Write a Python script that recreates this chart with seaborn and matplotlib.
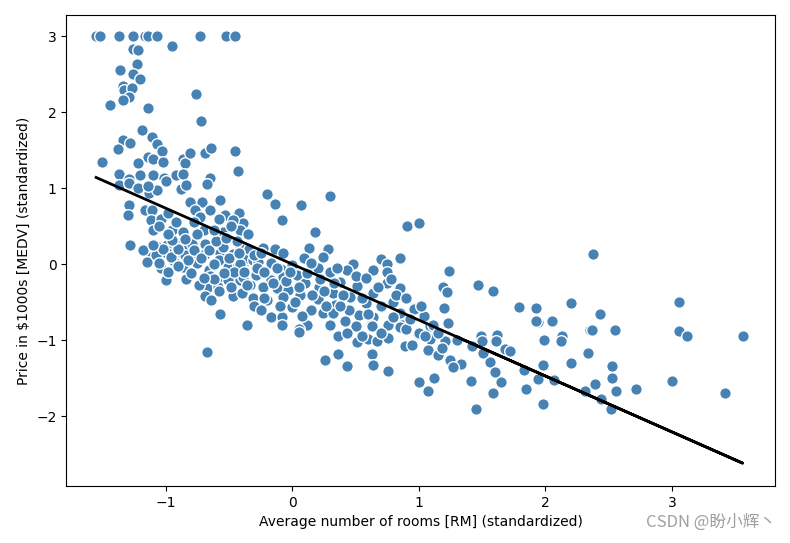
import numpy as np
import matplotlib
matplotlib.use("Agg")
import matplotlib.pyplot as plt
import seaborn as sns

# standardized RM (x) and MEDV (y)
rm_std = [
    -1.55, -1.52, -1.37, -1.26, -1.16, -1.14, -1.07, -0.73, -0.52, -0.45,
    -0.95, -1.26, -1.22, -1.23, -1.36, -1.26, -1.20, -1.34, -1.33, -1.27,
    -1.29, -1.34, -1.44, -1.14, -0.76, -0.72, -1.19, -1.34, -1.28, -1.11,
    -1.07, -1.03, -1.38, -1.14, -1.10, -1.02, -1.22, -0.86, -0.85, -0.81,
    -0.69, -0.64, -0.45, -0.43, -1.50, -1.37, -1.20, -1.10, -1.01, -0.92,
    -0.86, -0.65, -1.29, -1.00, -1.37, -1.29, -1.22, -1.13, -1.07, -1.14,
    -0.88, -0.84, -0.67, -1.29, -1.30, -1.16, -1.11, -1.12, -1.04, -0.98,
    -1.10, -0.95, -0.86, -0.81, -0.71, -0.57, -0.77, -0.73, -0.65, -0.78,
    -0.70, -0.53, -0.42, -0.39, -0.47, -0.55, -0.41, -1.28, -1.06, -0.99,
    -0.92, -0.86, -0.79, -0.69, -1.12, -0.99, -0.91, -0.85, -0.76, -0.69,
    -0.57, -0.47, -0.39, -1.15, -1.04, -0.94, -0.86, -0.75, -0.66, -0.58,
    -0.51, -0.43, -0.36, -1.00, -0.84, -0.71, -0.65, -0.58, -0.51, -0.41,
    -0.67, -0.59, -0.69, -0.64, -0.47, -0.40, -0.57, -0.36, -0.67,
    -0.20, -0.14, 0.07, 0.30, -0.08, 0.18, 0.91, 0.99, 0.13, 0.28,
    -0.23, -0.14, -0.07, 0.09, 0.24, 0.48, 0.70, 0.85, 0.75, -0.36,
    -0.31, -0.27, -0.17, -0.09, 0.00, 0.20, 0.30, 0.43, 0.64, 0.75,
    -0.39, -0.29, -0.17, -0.07, 0.04, 0.10, 0.21, 0.38, 0.51, 0.64,
    0.75, 0.85, -0.33, -0.23, -0.12, -0.03, 0.06, 0.20, 0.32, 0.46,
    0.58, 0.80, 0.96, -0.31, -0.20, -0.07, 0.00, -0.30, 0.24, 0.34,
    0.32, 0.53, 0.64, 0.85, -0.17, -0.08, -0.08, 0.12, 0.05, 0.50,
    0.62, 0.76, 0.87, -0.41, -0.41, 0.05, 0.36, 0.43, 0.51, 0.60,
    0.67, 0.76, 0.63, 0.85, 0.89, 0.95, 0.99, 0.26, 0.36, 0.43,
    0.63, 0.64, 0.76, 0.99,
    1.00, 1.09, 1.23, 1.09, 1.07, 1.15, 1.21, 1.25, 1.33, 1.27,
    1.12, 1.00, 1.07, 1.41, 1.45, 1.49, 1.50, 1.42, 1.51, 1.62,
    1.61, 1.68, 1.72, 1.56, 1.60, 1.65, 1.59, 1.83, 1.85, 1.94,
    1.98, 1.98, 1.94, 2.05, 1.99, 2.13, 2.12, 2.20, 2.07, 2.31,
    2.33, 2.35, 1.00, 1.24, 1.19, 1.22, 1.47, 1.59, 0.96, 1.04,
    1.20, 1.11, 1.79, 1.93, 1.93, 2.05, 2.20, 2.38, 2.43, 3.06,
    2.37, 2.55, 3.06, 3.12, 3.56, 2.34, 2.53, 2.53, 2.39, 2.56,
    2.72, 3.00, 3.42, 2.44, 2.52,
    # dense cluster, low-RM side
    -1.18, -1.08, -1.02, -0.96, -0.90, -0.82, -0.78, -0.72, -0.66, -0.62,
    -0.55, -0.50, -0.46, -0.44, -0.38, -0.34, -0.98, -0.90, -0.80, -0.74,
    -0.62, -0.54, -0.48, -0.36, -1.10, -1.05, -0.95, -0.85, -0.60, -0.52,
    -0.70, -0.58, -0.42, -0.30, -0.28, -0.25,
    -1.05, -0.98, -0.92, -0.75, -0.62, -0.58, -0.48, -0.35,
    # dense cluster, middle
    -0.22, -0.12, -0.05, 0.05, 0.12, 0.16, 0.22, 0.27, 0.33, 0.40,
    0.45, 0.50, 0.55, 0.60, 0.68, 0.70, 0.80, 0.82, 0.90, 0.93,
    0.42, 0.30, 0.15, 0.02, -0.10, -0.22, -0.25, 0.08, 0.55, 0.70,
    0.38, 0.25, -0.15, -0.02, 0.15, 0.35, 0.58, 0.78, 0.90, 1.02,
    1.05, 1.15, 1.18, 1.30,
]
medv_std = [
    3.00, 3.00, 3.00, 3.00, 3.00, 3.00, 3.00, 3.00, 3.00, 3.00,
    2.87, 2.83, 2.82, 2.63, 2.55, 2.50, 2.43, 2.34, 2.29, 2.32,
    2.20, 2.16, 2.09, 2.05, 2.24, 1.88, 1.76, 1.64, 1.60, 1.67,
    1.58, 1.49, 1.51, 1.41, 1.38, 1.34, 1.33, 1.39, 1.33, 1.46,
    1.46, 1.53, 1.49, 1.22, 1.34, 1.18, 1.17, 1.17, 1.13, 1.17,
    1.18, 1.14, 1.12, 1.10, 1.04, 1.07, 1.00, 0.93, 0.97, 1.03,
    0.99, 1.04, 1.05, 0.78, 0.64, 0.71, 0.71, 0.58, 0.60, 0.67,
    0.45, 0.45, 0.42, 0.82, 0.82, 0.84, 0.71, 0.62, 0.71, 0.55,
    0.45, 0.64, 0.67, 0.54, 0.58, 0.42, 0.45, 0.25, 0.22, 0.25,
    0.28, 0.22, 0.26, 0.26, 0.10, 0.14, 0.14, 0.12, 0.14, 0.13,
    0.14, 0.13, 0.14, 0.03, -0.05, 0.05, -0.04, 0.01, -0.08, 0.05,
    -0.04, -0.01, 0.05, -0.21, -0.20, -0.24, -0.15, -0.21, -0.21, -0.21,
    -0.32, -0.30, -0.42, -0.47, -0.42, -0.38, -0.66, -0.80, -1.16,
    0.92, 0.79, 0.78, 0.89, 0.58, 0.42, 0.50, 0.54, 0.21, 0.20,
    0.21, 0.20, 0.14, 0.08, 0.09, 0.00, 0.07, 0.08, 0.00, 0.08,
    0.05, 0.03, 0.01, -0.07, -0.01, -0.05, -0.10, -0.08, -0.08, -0.10,
    -0.17, -0.14, -0.21, -0.17, -0.14, -0.25, -0.30, -0.24, -0.29, -0.38,
    -0.25, -0.32, -0.28, -0.30, -0.32, -0.34, -0.41, -0.46, -0.38, -0.43,
    -0.51, -0.50, -0.58, -0.45, -0.47, -0.43, -0.57, -0.55, -0.64, -0.54,
    -0.64, -0.67, -0.70, -0.64, -0.70, -0.70, -0.80, -0.80, -0.86, -0.82,
    -0.80, -0.80, -0.80, 0.21, 0.00, -0.89, -0.95, -0.91, -1.03, -0.99,
    -1.01, -0.97, -0.82, -0.83, -1.08, -1.07, -0.92, -1.26, -1.18, -1.34,
    -1.18, -1.33, -1.41, -1.55,
    -0.91, -0.82, -0.78, -0.99, -1.13, -1.20, -1.01, -1.26, -1.32, -1.36,
    -1.50, -1.55, -1.67, -1.54, -1.91, -0.95, -1.01, -1.08, -1.17, -0.93,
    -1.01, -1.12, -1.14, -1.29, -1.42, -1.55, -1.70, -1.39, -1.64, -1.51,
    -1.33, -1.84, -0.76, -0.76, -1.00, -0.95, -1.01, -1.30, -1.53, -1.67,
    -1.17, -0.87, 0.54, -0.09, -0.30, -0.37, -0.28, -0.36, -0.59, -0.68,
    -0.58, -0.80, -0.57, -0.58, -0.75, -0.75, -0.51, 0.13, -0.66, -0.50,
    -0.87, -0.87, -0.88, -0.95, -0.95, -1.17, -1.34, -1.50, -1.58, -1.67,
    -1.64, -1.54, -1.70, -1.78, -1.91,
    # dense cluster, low-RM side
    0.18, 0.12, 0.20, 0.10, 0.20, 0.05, 0.18, 0.08, 0.18, 0.00,
    0.22, 0.08, -0.10, 0.30, -0.10, 0.20, -0.10, -0.02, -0.12, -0.28,
    -0.20, -0.12, -0.30, -0.28, 0.25, 0.02, 0.32, 0.33, 0.30, 0.35,
    -0.18, -0.35, 0.15, 0.12, -0.05, 0.15,
    0.50, 0.40, 0.55, 0.40, 0.45, 0.60, 0.50, 0.40,
    # dense cluster, middle
    -0.10, -0.05, -0.22, -0.30, -0.12, -0.40, -0.20, -0.55, -0.25, -0.40,
    -0.60, -0.15, -0.45, -0.65, -0.30, -0.55, -0.70, -0.40, -0.85, -0.72,
    -0.75, -0.80, -0.60, -0.50, -0.55, -0.45, -0.60, -0.68, -0.95, -0.90,
    -0.55, -0.35, -0.25, -0.10, 0.02, -0.05, -0.18, -0.20, -0.45, -0.55,
    -0.95, -0.90, -1.10, -1.00,
]

# fitted regression line (slope / intercept of the standardized model)
slope = -0.736
intercept = 0.0

x = np.array(rm_std)
y = np.array(medv_std)

fig, ax = plt.subplots(figsize=(7.9, 5.43), dpi=100)
sns.scatterplot(x=x, y=y, color="steelblue", edgecolor="white", s=70,
                linewidth=1, ax=ax, zorder=2)
ax.plot(x, slope * x + intercept, color="black", lw=2, zorder=3)
ax.set_xlim(-1.785, 3.815)
ax.set_ylim(-2.92, 3.276)
ax.set_xlabel("Average number of rooms [RM] (standardized)")
ax.set_ylabel("Price in $1000s [MEDV] (standardized)")

fig.text(0.982, 0.022, "CSDN @盼小辉丶", ha="right", va="bottom",
         color="#a0a0a0", fontsize=12,
         family=["Noto Sans CJK SC", "DejaVu Sans"])

plt.subplots_adjust(left=0.084, right=0.981, top=0.972, bottom=0.105)
plt.savefig("out.png", dpi=100)
